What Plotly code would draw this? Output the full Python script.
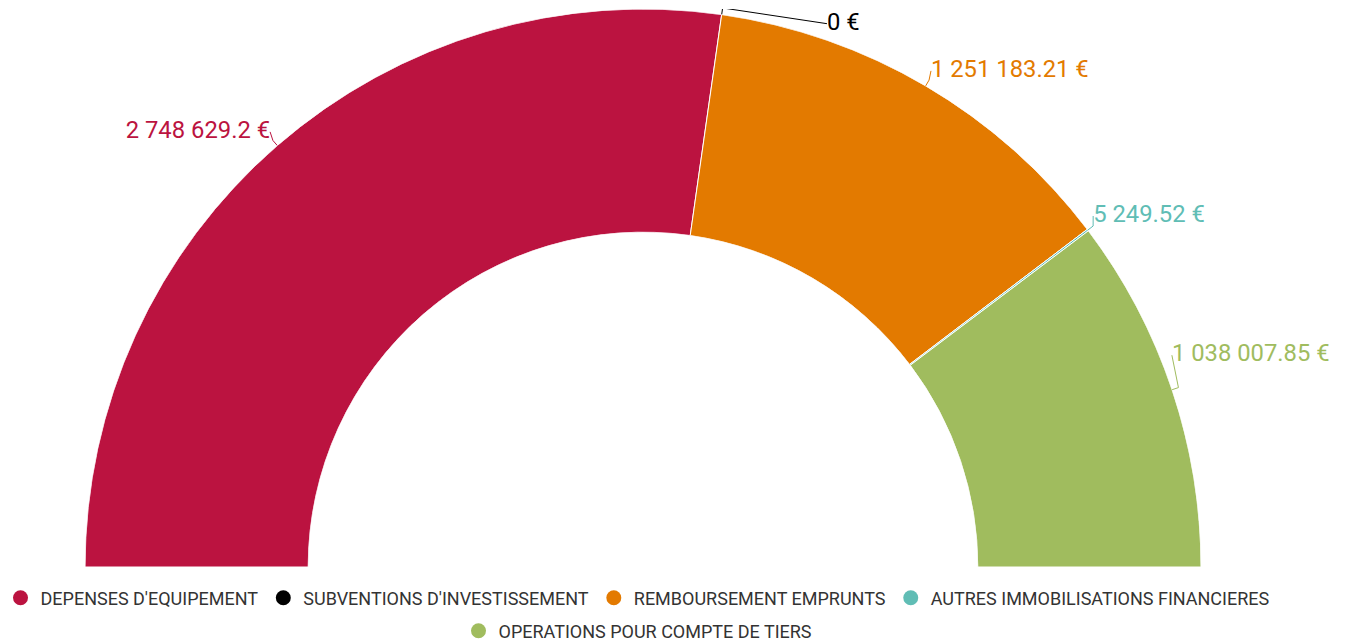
import math
import plotly.graph_objects as go

categories = ["DEPENSES D'EQUIPEMENT", "SUBVENTIONS D'INVESTISSEMENT", "REMBOURSEMENT EMPRUNTS",
              "AUTRES IMMOBILISATIONS FINANCIERES", "OPERATIONS POUR COMPTE DE TIERS"]
values = [2748629.2, 0, 1251183.21, 5249.52, 1038007.85]
colors = ["#BB1340", "#000000", "#E37A00", "#60BDB5", "#A0BC5E"]
# label placement tweaks (degrees along the arc, label radius as fraction of outer radius)
label_shift = [0.35, 10.6, -0.3, -0.8, -3.3]
label_r = [1.027, 1.028, 1.028, 1.023, 1.021]
legend_group = ["legend", "legend", "legend", "legend", "legend2"]


def fmt(v):
    s = f"{v:,.2f}".rstrip("0").rstrip(".")
    return s.replace(",", " ") + " €"


total = sum(values)
widths = [v / total * 180 for v in values]
starts = []
acc = 0
for w in widths:
    starts.append(acc)
    acc += w
mids = [s + w / 2 for s, w in zip(starts, widths)]

W, H = 1349, 643
dom_x = [85 / W, 1201 / W]
dom_y = [1 - 567 / H, 1 - 9 / H]

fig = go.Figure()
fig.add_trace(go.Barpolar(
    r=[1] * len(values), base=0, theta=mids, width=widths,
    marker=dict(color=colors, line=dict(color="white", width=1)),
    showlegend=False, hoverinfo="skip"))


def xy(r, theta):
    a = math.radians(180 - theta)
    return r * math.cos(a), r * math.sin(a)


for i, cat in enumerate(categories):
    th_lab = mids[i] + label_shift[i]
    pts = [xy(1.0, mids[i]), xy(1.012, mids[i]), xy(label_r[i], th_lab)]
    left = (180 - th_lab) > 90
    fig.add_trace(go.Scatter(
        x=[p[0] for p in pts], y=[p[1] for p in pts],
        mode="lines+text", text=["", "", fmt(values[i])],
        textposition="middle left" if left else "middle right",
        textfont=dict(family="Roboto", size=23.8, color=colors[i]),
        line=dict(color=colors[i], width=1), cliponaxis=False,
        showlegend=False, hoverinfo="skip"))

for i, cat in enumerate(categories):
    fig.add_trace(go.Scatter(
        x=[None], y=[None], mode="markers", name=cat,
        marker=dict(symbol="circle", size=15, color=colors[i]),
        legend=legend_group[i]))

legend_font = dict(family="Roboto", size=18, color="#333333")
fig.update_layout(
    width=W, height=H, margin=dict(l=0, r=0, t=0, b=0, autoexpand=False),
    paper_bgcolor="white", plot_bgcolor="rgba(0,0,0,0)",
    font=dict(family="Roboto", color="#333333"),
    polar=dict(
        domain=dict(x=dom_x, y=dom_y),
        sector=[0, 180], hole=0.6, bgcolor="rgba(0,0,0,0)",
        radialaxis=dict(visible=False, range=[0, 1]),
        angularaxis=dict(rotation=180, direction="clockwise", showline=False,
                         showgrid=False, showticklabels=False, ticks="")),
    xaxis=dict(domain=dom_x, range=[-1, 1], visible=False, fixedrange=True),
    yaxis=dict(domain=dom_y, range=[0, 1], visible=False, fixedrange=True),
    legend=dict(orientation="h", x=638 / W, xanchor="center", y=1 - 598 / H, yanchor="middle",
                font=legend_font, itemwidth=30, bgcolor="rgba(0,0,0,0)"),
    legend2=dict(orientation="h", x=638 / W, xanchor="center", y=1 - 631 / H, yanchor="middle",
                 font=legend_font, itemwidth=30, bgcolor="rgba(0,0,0,0)"),
    showlegend=True,
)

fig.write_html("out.html", config={"displayModeBar": False},
               post_script="document.body.style.margin='0';document.body.style.overflow='hidden';")
